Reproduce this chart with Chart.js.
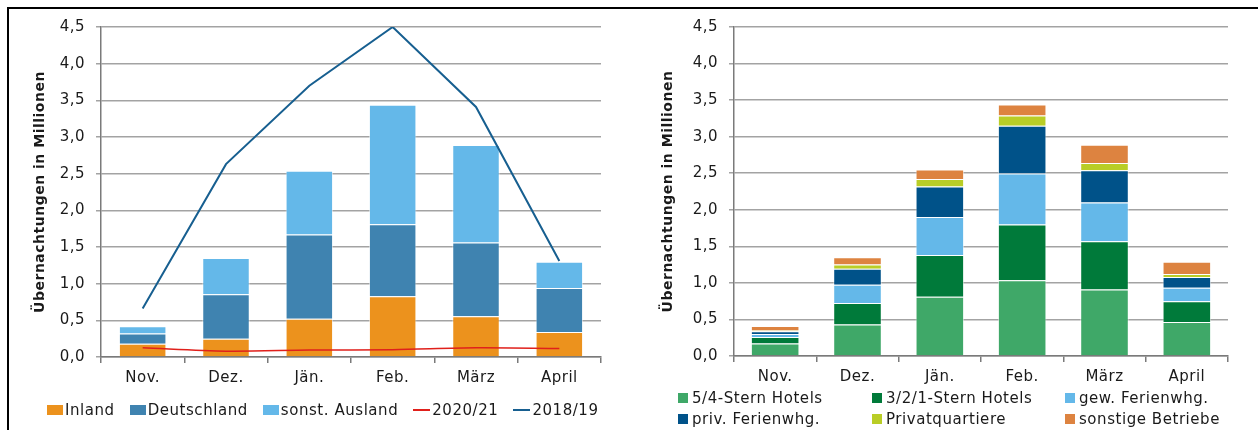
<!DOCTYPE html>
<html>
<head>
<meta charset="utf-8">
<script src="https://cdn.jsdelivr.net/npm/chart.js@4.4.0/dist/chart.umd.min.js"></script>
<style>
  body { margin: 0; background: #fff; width: 1258px; height: 430px; overflow: hidden; position: relative; font-family: "DejaVu Sans", sans-serif; }
  .frame { position: absolute; left: 7px; top: 7px; width: 1260px; height: 440px; border-top: 2px solid #000; border-left: 2px solid #000; }
  .wrap { position: absolute; top: 0; }
  .legend { position: absolute; font-size: 15px; color: #1a1a1a; white-space: nowrap; letter-spacing: 0.55px; }
  .item { position: absolute; display: flex; align-items: center; }
  .box { display: inline-block; margin-right: 2px; }
</style>
</head>
<body>
<div class="frame"></div>
<div class="wrap" style="left:0;width:625px;height:430px"><canvas id="left" width="625" height="430"></canvas></div>
<div class="wrap" style="left:625px;width:633px;height:430px"><canvas id="right" width="633" height="430"></canvas></div>
<div class="legend" id="legLeft"></div>
<div class="legend" id="legRight"></div>
<script>
// categories
const months = ["Nov.", "Dez.", "Jän.", "Feb.", "März", "April"];

// left chart: Nächtigungen nach Herkunft (Mio.)
const inland = [0.18, 0.25, 0.52, 0.83, 0.555, 0.34];
const deutschland = [0.14, 0.605, 1.15, 0.98, 1.005, 0.60];
const sonstAusland = [0.10, 0.495, 0.87, 1.63, 1.33, 0.36];
const season2021 = [0.125, 0.08, 0.095, 0.10, 0.125, 0.115];
const season1819 = [0.66, 2.63, 3.70, 4.50, 3.41, 1.31];

// right chart: nach Unterkunftsart (Mio.)
const stern54 = [0.17, 0.43, 0.81, 1.035, 0.91, 0.465];
const stern321 = [0.09, 0.295, 0.57, 0.765, 0.66, 0.285];
const gewFerien = [0.04, 0.25, 0.52, 0.695, 0.53, 0.185];
const privFerien = [0.04, 0.22, 0.42, 0.655, 0.44, 0.145];
const privatquartiere = [0.01, 0.055, 0.10, 0.14, 0.10, 0.04];
const sonstige = [0.06, 0.10, 0.13, 0.15, 0.25, 0.17];

const yTicks = [0, 0.5, 1, 1.5, 2, 2.5, 3, 3.5, 4, 4.5];

const FONT = "'DejaVu Sans', sans-serif";
Chart.defaults.font.family = FONT;
Chart.defaults.font.size = 15;
Chart.defaults.color = "#1a1a1a";

// a bit of letter spacing like the original font
const spacing = {
  id: "spacing",
  beforeLayout: (chart) => { chart.ctx.letterSpacing = "0.5px"; },
  beforeDraw: (chart) => { chart.ctx.letterSpacing = "0.5px"; }
};

function fmt(v) { return v.toFixed(1).replace(".", ","); }

function scales(yWidth, titlePad, xHeight) {
  return {
    x: {
      stacked: true,
      offset: true,
      grid: { offset: true, drawOnChartArea: false, drawTicks: true, tickLength: 6, color: "#7a7a7a", lineWidth: 1.5 },
      border: { display: true, color: "#7a7a7a", width: 1.5 },
      ticks: { padding: 6, font: { size: 15 }, color: "#1a1a1a" },
      afterFit: (s) => { s.height = xHeight; }
    },
    y: {
      stacked: true,
      min: 0, max: 4.5,
      afterBuildTicks: (s) => { s.ticks = yTicks.map(v => ({ value: v })); },
      grid: { color: "#a3a3a3", lineWidth: 1.5, tickLength: 5, drawTicks: true },
      border: { display: true, color: "#7a7a7a", width: 1.5 },
      ticks: { padding: 11, callback: (v) => fmt(v), font: { size: 15 }, color: "#1a1a1a" },
      title: { display: true, text: "Übernachtungen in Millionen", font: { size: 14, weight: "bold" }, color: "#1a1a1a", padding: { top: titlePad, bottom: 0 } },
      afterFit: (s) => { s.width = yWidth; }
    }
  };
}

function barSet(label, data, color) {
  return { type: "bar", label: label, data: data, backgroundColor: color, borderColor: "rgba(255,255,255,0.55)", borderWidth: 1, stack: "s", order: 2, categoryPercentage: 1, barPercentage: 0.57 };
}

const leftDatasets = [
  barSet("Inland", inland, "#ec921d"),
  barSet("Deutschland", deutschland, "#3f83b0"),
  barSet("sonst. Ausland", sonstAusland, "#64b8e9"),
  { type: "line", label: "2020/21", data: season2021, borderColor: "#e0201b", borderWidth: 1.5, pointRadius: 0, tension: 0.3, stack: "l1", order: 0 },
  { type: "line", label: "2018/19", data: season1819, borderColor: "#175f90", borderWidth: 2, pointRadius: 0, tension: 0, stack: "l2", order: 0 }
];

new Chart(document.getElementById("left"), {
  type: "bar",
  data: { labels: months, datasets: leftDatasets },
  options: {
    responsive: false,
    animation: false,
    layout: { padding: { top: 27, right: 24, left: 0, bottom: 0 } },
    plugins: { legend: { display: false }, tooltip: { enabled: false } },
    scales: scales(101, 32, 73)
  },
  plugins: [spacing]
});

const rightDatasets = [
  barSet("5/4-Stern Hotels", stern54, "#3fa868"),
  barSet("3/2/1-Stern Hotels", stern321, "#007a3a"),
  barSet("gew. Ferienwhg.", gewFerien, "#64b8e9"),
  barSet("priv. Ferienwhg.", privFerien, "#005289"),
  barSet("Privatquartiere", privatquartiere, "#b9cd26"),
  barSet("sonstige Betriebe", sonstige, "#dd8340")
];
rightDatasets.forEach(d => { d.barPercentage = 0.59; });

new Chart(document.getElementById("right"), {
  type: "bar",
  data: { labels: months, datasets: rightDatasets },
  options: {
    responsive: false,
    animation: false,
    layout: { padding: { top: 27, right: 30, left: 0, bottom: 0 } },
    plugins: { legend: { display: false }, tooltip: { enabled: false } },
    scales: scales(109, 35, 74)
  },
  plugins: [spacing]
});

// legends
const legL = document.getElementById("legLeft");
legL.style.left = "47px"; legL.style.top = "401px";
legL.style.display = "flex"; legL.style.alignItems = "center";
leftDatasets.forEach((d, i) => {
  const it = document.createElement("span");
  it.style.display = "flex"; it.style.alignItems = "center"; it.style.marginRight = "15px";
  const b = document.createElement("span");
  b.className = "box";
  if (d.type === "line") { b.style.width = "17px"; b.style.height = "2px"; b.style.background = d.borderColor; }
  else { b.style.width = "16px"; b.style.height = "10px"; b.style.background = d.backgroundColor; }
  it.appendChild(b);
  it.appendChild(document.createTextNode(d.label));
  legL.appendChild(it);
});

const legR = document.getElementById("legRight");
legR.style.left = "0px"; legR.style.top = "0px";
const colX = [678, 872, 1065];
const rowY = [389, 410];
rightDatasets.forEach((d, i) => {
  const it = document.createElement("span");
  it.className = "item";
  it.style.left = colX[i % 3] + "px";
  it.style.top = rowY[Math.floor(i / 3)] + "px";
  const b = document.createElement("span");
  b.className = "box";
  b.style.width = "10px"; b.style.height = "10px"; b.style.marginRight = "4px";
  b.style.background = d.backgroundColor;
  it.appendChild(b);
  it.appendChild(document.createTextNode(d.label));
  legR.appendChild(it);
});
</script>
</body>
</html>
